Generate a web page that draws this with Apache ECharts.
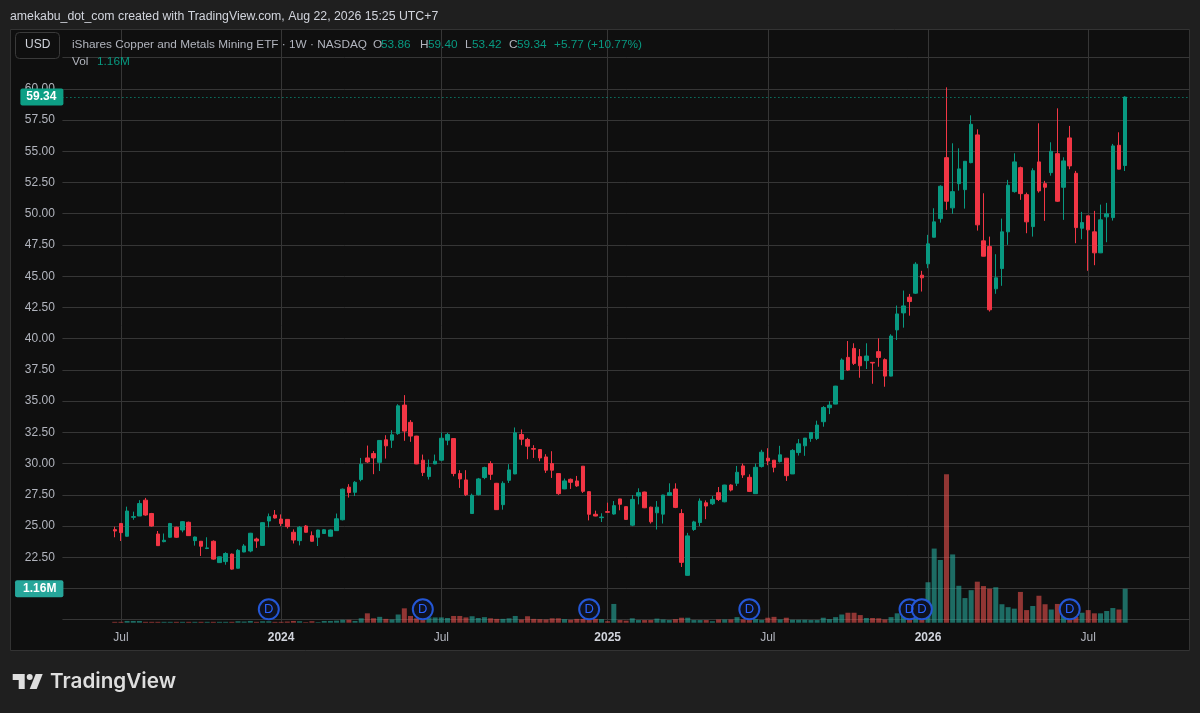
<!DOCTYPE html>
<html><head><meta charset="utf-8">
<style>html,body{margin:0;padding:0;background:#1f1f1f}#c{width:1200px;height:713px}</style>
<script src="https://cdn.jsdelivr.net/npm/echarts@6/dist/echarts.min.js"></script>
</head><body><div id="c"></div>
<script>
const opens=[24.71,25.2,24.18,25.7,25.8,27.07,26,24.36,23.75,24.1,
24.9,24.68,25.3,23.83,23.78,23.2,23.78,22.07,22.15,22.75,
21.62,22.92,23,23.96,23.45,25.4,25.88,25.56,25.53,24.5,
23.83,25,24.23,24.1,24.4,24.18,24.63,25.5,28.11,27.7,
28.72,30.45,30.8,30.1,31.9,31.87,32.4,34.68,33.3,32.2,
30.27,28.96,29.97,30.27,31.87,32,29.2,28.69,26,27.51,
28.88,30,28.42,26.71,28.66,29.17,32.33,31.93,31.2,31.12,
30.53,30,29.2,27.97,28.74,28.61,29.79,27.75,25.94,25.67,
26.15,25.96,27.17,26.55,25.07,27.4,27.72,26.51,26.06,25.95,
27.45,27.96,26,21.05,24.72,25.28,26.86,26.78,27.67,26.94,
28.28,28.42,29.81,28.9,27.59,29.76,30.43,30.27,30.16,30.43,
29.17,30.88,31.42,32.01,32.01,33.35,34.47,34.76,36.74,38.5,
39.22,38.56,38.24,38.1,38.96,38.32,37,40.7,42.06,43.32,
43.64,45.08,45.99,48.12,49.61,54.49,50.47,52.41,51.93,54.09,
56.31,47.83,47.37,43.99,45.61,48.55,51.77,53.69,51.53,48.97,
54.15,52.41,53.29,54.81,52.12,56.07,53.24,48.84,49.83,48.55,
46.87,49.75,49.69,55.48,53.86];
const closes=[24.6,24.47,26.2,25.75,26.8,25.88,25,23.43,23.86,25.2,
24.1,25.35,24.23,24.12,23.38,23.25,22.35,22.53,22.8,21.55,
23.05,23.4,24.42,23.8,25.27,25.75,25.64,25.2,24.95,23.88,
24.9,24.5,23.78,24.68,24.7,24.68,25.58,27.95,27.68,28.5,
29.95,30.13,30.45,31.85,31.42,32.3,34.62,32.6,32.2,29.97,
29.28,29.7,30.19,32.03,32.33,29.2,28.77,27.51,27.46,28.77,
29.68,29.14,26.31,28.42,29.49,32.46,31.95,31.39,31.15,30.45,
29.47,29.47,27.59,28.61,28.5,28.21,27.78,25.94,25.8,25.72,
26.1,26.63,26.74,25.53,27.13,27.67,26.46,25.34,26.51,27.48,
27.67,26.49,22.09,24.21,25.33,27,26.6,27.13,27.13,28.28,
27.88,29.3,29.09,27.77,29.7,30.91,30.21,29.7,30.7,29.03,
31.05,31.58,32.04,32.49,33.08,34.49,34.68,36.2,38.29,37.49,
38.02,37.83,38.61,38.05,38.5,37,40.21,41.98,42.62,42.97,
45.96,44.87,47.59,49.35,52.2,51,51.77,53.59,54.2,57.16,
49.11,46.6,42.31,44.87,48.55,52.28,54.15,51.61,49.35,53.45,
51.83,52.12,55,51,54.23,53.83,48.89,49.29,48.71,46.87,
49.51,49.99,55.43,53.57,59.34];
const lows=[24.1,23.8,24.15,25.5,25.8,25.82,24.95,23.4,23.7,24.05,
24.05,24.5,24.2,23.43,22.6,23.15,22.3,22.05,21.9,21.5,
21.6,22.9,22.9,23.25,23.42,24.9,25.6,25,24.8,23.6,
23.45,24.47,23.75,23.4,24.38,24.15,24.6,25.45,27.28,27.4,
28.58,30.05,29.15,29.4,30.4,31.25,32.3,31.82,31.74,29.95,
29,28.72,29.95,30.19,31.47,28.98,28.05,27.4,25.99,27.45,
28.75,28.69,26.3,26.31,28.45,29.15,31.47,30.35,30.45,30.19,
29.25,28.85,27.49,27.95,27.97,28.13,27.65,25.45,25.78,25.32,
26.07,25.91,26.26,25.5,24.99,26.73,26.43,25.2,24.72,25.2,
27.4,26.43,21.72,21.04,24.61,24.99,25.55,26.68,27,26.9,
27.77,28.2,28.85,27.72,27.58,29.68,29.87,29.3,30.08,28.61,
29.16,30.64,30.62,31.74,31.88,32.95,33.96,34.75,36.73,37.43,
37.89,36.87,37.57,36.39,37.75,36.15,36.98,39.89,40.88,41.84,
43.58,43.77,45.64,48.11,49.29,50.31,49.99,51.85,50.41,54.04,
48.65,46.59,42.17,43.59,44.23,47.51,51.69,51.11,48.44,48.17,
51.69,49.43,53.05,50.95,49.51,53.56,47.64,47.96,45.43,45.88,
46.85,47.72,49.45,53.55,53.42];
const highs=[24.95,25.25,26.55,26.15,27.07,27.25,26.05,24.6,24.4,25.25,
24.95,25.4,25.35,24.15,23.8,24.1,23.85,22.55,22.9,22.8,
23.15,23.55,24.45,24.07,25.3,26,26.28,25.93,25.55,24.73,
25,25.08,24.57,24.7,24.75,24.72,26,28,28.35,28.6,
30.45,31.44,31,31.85,32.27,32.67,34.75,35.48,33.48,32.22,
30.72,30.32,30.72,32.49,32.46,32.03,29.47,29.47,27.59,28.85,
29.75,30.19,28.45,28.58,29.95,32.89,32.73,32.06,31.47,31.15,
30.75,30.99,29.22,28.8,28.8,29.01,29.8,27.78,26.23,26.02,
26.87,27,27.18,26.56,27.48,28.02,27.75,26.55,27,27.5,
28.42,28.42,26.35,24.45,25.42,27.21,27.05,27.4,28.12,28.3,
28.34,29.81,30,29.14,30,31.1,31.23,30.28,31.42,30.45,
31.15,31.96,32.05,32.5,33.43,34.6,35,36.22,38.42,39.81,
39.63,39.17,39.63,38.11,40.03,38.42,40.35,42.65,43.85,43.58,
46.12,45.43,48.31,50.44,52.28,60.12,55.64,55.24,54.2,57.88,
56.76,51.64,48.17,46.76,49.61,52.71,54.84,53.77,51.69,53.64,
57.24,52.63,55.72,58.44,54.52,57.03,53.43,50.15,49.84,50.23,
50.73,50.87,55.59,56.52,59.4];
const volumes=[.03,.03,.06,.06,.06,.03,.03,.03,.03,.03,
.03,.03,.03,.03,.03,.03,.03,.03,.03,.03,
.05,.04,.06,.03,.05,.05,.03,.03,.04,.06,
.05,.02,.05,.02,.06,.06,.07,.1,.1,.06,
.15,.32,.15,.2,.13,.11,.28,.49,.23,.15,
.09,.18,.18,.18,.16,.23,.23,.18,.22,.16,
.19,.15,.13,.13,.15,.23,.11,.22,.13,.12,
.11,.15,.15,.12,.1,.13,.13,.16,.13,.12,
.05,.64,.09,.07,.15,.09,.09,.09,.14,.11,
.09,.12,.17,.17,.09,.09,.09,.05,.11,.11,
.11,.19,.11,.09,.12,.09,.17,.2,.11,.17,
.1,.1,.1,.09,.09,.17,.12,.19,.28,.34,
.34,.26,.16,.16,.15,.11,.19,.32,.45,.3,
.2,.2,1.38,2.53,2.14,5.07,2.33,1.26,.84,1.11,
1.4,1.25,1.16,1.21,.63,.53,.48,1.05,.43,.57,
.92,.63,.45,.64,.4,.3,.2,.34,.43,.32,
.32,.4,.5,.45,1.16];
const tickWeeks=[1,27,53,80,106,132,158];
const tickLabels=['Jul','2024','Jul','2025','Jul','2026','Jul'];
const dividendWeeks=[25,50,77,103,129,131,155];
const dividendLevel=0.457;
const priceTicksShown=[22.5,25,27.5,30,32.5,35,37.5,40,42.5,45,47.5,50,52.5,55,57.5,60];
const lastPrice=59.34, lastVolume=1.16;

const leadPad=8, trailPad=10;
const up='#089981', down='#f23645', upVol='rgba(38,166,154,.62)', downVol='rgba(239,83,80,.58)';
const font='"Liberation Sans",Arial,sans-serif';
const cats=[];
for(let i=0;i<leadPad+opens.length+trailPad;i++){
  cats.push(new Date(Date.UTC(2023,5,26)+(i-leadPad)*7*864e5).toISOString().slice(0,10));
}
const pad=(arr,blank)=>Array(leadPad).fill(blank).concat(arr,Array(trailPad).fill(blank));
const candleData=pad(opens.map((o,i)=>[o,closes[i],lows[i],highs[i]]),['-','-','-','-']);
const volData=pad(volumes.map((v,i)=>({value:v,itemStyle:{color:closes[i]>=opens[i]?upVol:downVol}})),'-');
const tickMap={};tickWeeks.forEach((w,i)=>{tickMap[cats[w+leadPad]]=tickLabels[i];});

const G={left:62.4,width:1127.46};
const txt=(x,y,text,fill,size)=>({type:'text',left:x,top:y,z:60,silent:true,style:{text,fill,font:(size||11.8)+'px '+font}});
const hdr='#b2b5be', tg='#089981', logo='#dedede';

const option={
  animation:false,
  backgroundColor:'#1f1f1f',
  grid:[
    {left:G.left,width:G.width,top:57.6,height:562.1,show:false},
    {left:G.left,width:G.width,top:29,height:593.7,show:false}
  ],
  xAxis:[
    {type:'category',gridIndex:0,data:cats,boundaryGap:true,axisLine:{show:false},axisTick:{show:false},axisLabel:{show:false},splitLine:{show:false}},
    {type:'category',gridIndex:1,data:cats,boundaryGap:true,axisLine:{show:false},axisTick:{show:false,alignWithLabel:true},
      axisLabel:{interval:(i,v)=>v in tickMap,margin:9,fontFamily:font,fontSize:12,color:'#b2b5be',hideOverlap:false,
        formatter:v=>{const t=tickMap[v]||'';return /^\d/.test(t)?'{b|'+t+'}':t;},
        rich:{b:{fontWeight:'bold',fontFamily:font,fontSize:12,color:'#d1d4dc'}}},
      splitLine:{show:true,alignWithLabel:true,interval:(i,v)=>v in tickMap,lineStyle:{color:'#363636',width:1}}}
  ],
  yAxis:[
    {type:'value',gridIndex:0,min:17.5,max:62.5,interval:2.5,position:'left',axisLine:{show:false},axisTick:{show:false},
      axisLabel:{margin:7.5,fontFamily:font,fontSize:12,color:'#b2b5be',formatter:v=>priceTicksShown.includes(v)?v.toFixed(2):''},
      splitLine:{show:true,lineStyle:{color:'#363636',width:1}}},
    {type:'value',gridIndex:1,min:0,max:20.26,show:false,splitLine:{show:false}}
  ],
  series:[
    {type:'bar',name:'Vol',xAxisIndex:1,yAxisIndex:1,data:volData,barWidth:5,z:2,silent:true,
      markLine:{silent:true,symbol:'none',precision:2,lineStyle:{color:'rgba(0,0,0,0)'},
        label:{position:'start',distance:-1,formatter:lastVolume.toFixed(2)+'M',color:'#fff',fontFamily:font,fontSize:12,fontWeight:'bold',
          backgroundColor:'#26a69a',padding:[3,7,2,8],borderRadius:2},
        data:[{yAxis:lastVolume}]}},
    {type:'candlestick',name:'Price',xAxisIndex:0,yAxisIndex:0,data:candleData,barWidth:4,z:3,silent:true,
      itemStyle:{color:up,color0:down,borderColor:up,borderColor0:down,borderWidth:1},
      markLine:{silent:true,symbol:'none',precision:2,lineStyle:{color:'#0aa88e',type:[1,3],width:1},
        label:{position:'start',distance:-1,formatter:lastPrice.toFixed(2),color:'#fff',fontFamily:font,fontSize:12,fontWeight:'bold',
          backgroundColor:'#0d9f85',padding:[3,7,2,6],borderRadius:2},
        data:[{yAxis:lastPrice}]}},
    {type:'scatter',name:'Dividends',xAxisIndex:1,yAxisIndex:1,z:5,silent:true,symbol:'circle',symbolSize:20,
      data:dividendWeeks.map(w=>[cats[w+leadPad],dividendLevel]),
      itemStyle:{color:'#0f1220',borderColor:'#2457d6',borderWidth:2,opacity:1},
      label:{show:true,position:'inside',formatter:'D',color:'#2962ff',fontFamily:font,fontSize:13}}
  ],
  graphic:[
    {type:'rect',silent:true,z:-10,shape:{x:10.5,y:29.5,width:1179,height:621},style:{fill:'#0f0f0f',stroke:'#333',lineWidth:1}},
    {type:'rect',silent:true,z:50,shape:{x:15.5,y:32.5,width:44,height:26,r:4},style:{fill:'#0f0f0f',stroke:'#3a3a3a',lineWidth:1}},
    txt(10,11,'amekabu_dot_com created with TradingView.com, Aug 22, 2026 15:25 UTC+7','#d1d4dc',12.3),
    txt(25,39,'USD','#d1d4dc',12),
    txt(72,39,'iShares Copper and Metals Mining ETF · 1W · NASDAQ',hdr),
    txt(373,39,'O',hdr),txt(381,39,'53.86',tg),
    txt(420,39,'H',hdr),txt(428,39,'59.40',tg),
    txt(465,39,'L',hdr),txt(472,39,'53.42',tg),
    txt(509,39,'C',hdr),txt(517,39,'59.34',tg),
    txt(554,39,'+5.77 (+10.77%)',tg),
    txt(72,56,'Vol',hdr),txt(97,56,'1.16M',tg),
    {type:'polygon',silent:true,z:60,shape:{points:[[12.7,674],[24.7,674],[24.7,689],[18.7,689],[18.7,680],[12.7,680]]},style:{fill:logo}},
    {type:'polygon',silent:true,z:60,shape:{points:[[36.7,689],[29.7,689],[35.7,674],[42.7,674]]},style:{fill:logo}},
    {type:'circle',silent:true,z:60,shape:{cx:29.7,cy:677,r:3},style:{fill:logo}},
    {type:'text',silent:true,z:60,left:50,top:671,style:{text:'TradingView',fill:logo,font:'600 20.7px Inter, sans-serif'}}
  ]
};
echarts.init(document.getElementById('c')).setOption(option);
</script></body></html>
